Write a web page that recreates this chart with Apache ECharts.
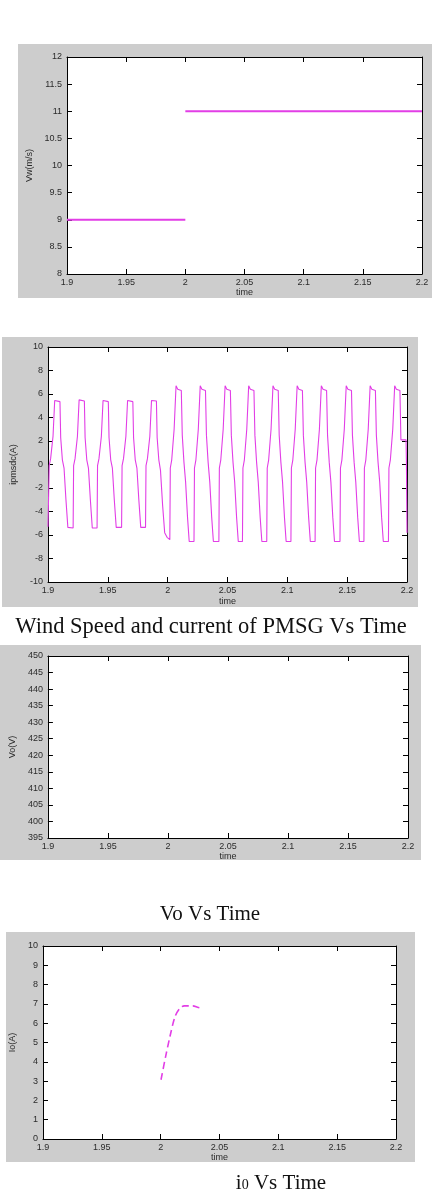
<!DOCTYPE html>
<html>
<head>
<meta charset="utf-8">
<script src="https://cdn.jsdelivr.net/npm/echarts@6/dist/echarts.min.js"></script>
<style>
  html, body { margin: 0; padding: 0; background: #fff; }
  #chartBox { width: 433px; height: 1196px; }
</style>
</head>
<body>
<div id="chartBox"></div>
<script>
// time axis shared by the four plots
const timeTicks = [1.9, 1.95, 2, 2.05, 2.1, 2.15, 2.2];

// plot 1 - wind speed step
const windTicks = [8, 8.5, 9, 9.5, 10, 10.5, 11, 11.5, 12];
const windTime = [1.9, 2.0, 2.0, 2.0, 2.2];
const windSpeed = [9, 9, null, 11, 11];

// plot 2 - PMSG current, one row per cycle
const ipmTicks = [-10, -8, -6, -4, -2, 0, 2, 4, 6, 8, 10];
const ipmTime = [
  1.9000, 1.9010, 1.9022, 1.9042, 1.9056, 1.9100, 1.9106, 1.9120, 1.9134, 1.9150, 1.9166,
  1.9210, 1.9214, 1.9226, 1.9246, 1.9260, 1.9304, 1.9310, 1.9324, 1.9338, 1.9354, 1.9370,
  1.9410, 1.9414, 1.9426, 1.9446, 1.9460, 1.9504, 1.9510, 1.9524, 1.9538, 1.9554, 1.9570,
  1.9615, 1.9619, 1.9631, 1.9651, 1.9665, 1.9709, 1.9715, 1.9729, 1.9743, 1.9759, 1.9775,
  1.9815, 1.9819, 1.9831, 1.9851, 1.9865, 1.9906, 1.9912, 1.9926, 1.9940, 1.9958, 1.9975, 1.9995,
  2.0018, 2.0022, 2.0034, 2.0054, 2.0070, 2.0084, 2.0114, 2.0122, 2.0136, 2.0150, 2.0166, 2.0180,
  2.0220, 2.0224, 2.0236, 2.0256, 2.0272, 2.0286, 2.0316, 2.0324, 2.0338, 2.0352, 2.0368, 2.0382,
  2.0428, 2.0432, 2.0444, 2.0464, 2.0480, 2.0494, 2.0524, 2.0532, 2.0546, 2.0560, 2.0576, 2.0590,
  2.0625, 2.0629, 2.0641, 2.0661, 2.0677, 2.0691, 2.0721, 2.0729, 2.0743, 2.0757, 2.0773, 2.0787,
  2.0828, 2.0832, 2.0844, 2.0864, 2.0880, 2.0894, 2.0924, 2.0932, 2.0946, 2.0960, 2.0976, 2.0990,
  2.1030, 2.1034, 2.1046, 2.1066, 2.1082, 2.1096, 2.1126, 2.1134, 2.1148, 2.1162, 2.1178, 2.1192,
  2.1232, 2.1236, 2.1248, 2.1268, 2.1284, 2.1298, 2.1328, 2.1336, 2.1350, 2.1364, 2.1380, 2.1394,
  2.1440, 2.1444, 2.1456, 2.1476, 2.1492, 2.1506, 2.1536, 2.1544, 2.1558, 2.1572, 2.1588, 2.1602,
  2.1640, 2.1644, 2.1656, 2.1676, 2.1692, 2.1706, 2.1736, 2.1744, 2.1758, 2.1772, 2.1788, 2.1802,
  2.1845, 2.1849, 2.1861, 2.1881, 2.1897, 2.1911, 2.1941, 2.1949, 2.1992, 2.1995, 2.2000
];
const ipmValue = [
  -5.30, -0.10, 0.50, 2.40, 5.45, 5.35, 2.30, 0.40, -0.30, -3.00, -5.35,
  -5.40, -0.10, 0.50, 2.40, 5.50, 5.40, 2.30, 0.40, -0.30, -3.00, -5.40,
  -5.40, -0.10, 0.50, 2.40, 5.45, 5.35, 2.30, 0.40, -0.30, -3.00, -5.35,
  -5.35, -0.10, 0.50, 2.40, 5.45, 5.35, 2.30, 0.40, -0.30, -3.00, -5.35,
  -5.35, -0.10, 0.50, 2.40, 5.45, 5.40, 2.30, 0.40, -0.50, -3.50, -5.80, -6.20,
  -6.40, -0.30, 0.40, 3.00, 6.70, 6.40, 6.30, 2.50, 0.20, -1.50, -4.50, -6.55,
  -6.55, -0.30, 0.40, 3.00, 6.70, 6.40, 6.30, 2.50, 0.20, -1.50, -4.50, -6.55,
  -6.55, -0.30, 0.40, 3.00, 6.70, 6.40, 6.30, 2.50, 0.20, -1.50, -4.50, -6.55,
  -6.55, -0.30, 0.40, 3.00, 6.70, 6.40, 6.30, 2.50, 0.20, -1.50, -4.50, -6.55,
  -6.55, -0.30, 0.40, 3.00, 6.70, 6.40, 6.30, 2.50, 0.20, -1.50, -4.50, -6.55,
  -6.55, -0.30, 0.40, 3.00, 6.70, 6.40, 6.30, 2.50, 0.20, -1.50, -4.50, -6.55,
  -6.55, -0.30, 0.40, 3.00, 6.70, 6.40, 6.30, 2.50, 0.20, -1.50, -4.50, -6.55,
  -6.55, -0.30, 0.40, 3.00, 6.70, 6.40, 6.30, 2.50, 0.20, -1.50, -4.50, -6.55,
  -6.55, -0.30, 0.40, 3.00, 6.70, 6.40, 6.30, 2.50, 0.20, -1.50, -4.50, -6.55,
  -6.55, -0.30, 0.40, 3.00, 6.70, 6.40, 6.30, 2.10, 2.10, 0.30, -5.80
];

// plot 3 - Vo, nothing drawn inside the range
const voTicks = [395, 400, 405, 410, 415, 420, 425, 430, 435, 440, 445, 450];

// plot 4 - io
const ioTicks = [0, 1, 2, 3, 4, 5, 6, 7, 8, 9, 10];
const ioTime = [2.0003, 2.0042, 2.0079, 2.0122, 2.0164, 2.0201, 2.0272, 2.0320, 2.0363];
const ioValue = [3.07, 4.27, 5.31, 6.34, 6.78, 6.90, 6.90, 6.81, 6.76];

const pink = '#e23ee6';
const grey = '#cdcdcd';
const tickFont = { fontFamily: 'Liberation Sans', fontSize: 9, color: '#2b2b2b' };

function zip(xs, ys) {
  return xs.map((x, i) => [x, ys[i]]);
}

function axis(g, ticks, step, pos, opts) {
  return Object.assign({
    gridIndex: g,
    type: 'value',
    position: pos,
    min: ticks[0],
    max: ticks[ticks.length - 1],
    interval: step,
    splitLine: { show: false },
    axisLine: { show: true, onZero: false, lineStyle: { color: '#000', width: 1 } },
    axisTick: { show: true, inside: true, length: 5, lineStyle: { color: '#000' } },
    axisLabel: (pos === 'bottom' || pos === 'left')
      ? Object.assign({ margin: pos === 'left' ? 5 : 4 }, tickFont)
      : { show: false }
  }, opts || {});
}

const xName = (gap) => ({
  name: 'time', nameLocation: 'middle', nameGap: gap,
  nameTextStyle: { fontFamily: 'Liberation Sans', fontSize: 9, color: '#2b2b2b' }
});
const yName = (txt, gap) => ({
  name: txt, nameLocation: 'middle', nameGap: gap,
  nameTextStyle: { fontFamily: 'Liberation Sans', fontSize: 9, color: '#2b2b2b' }
});

const grids = [
  { left: 67, top: 57, width: 355, height: 217 },
  { left: 48, top: 347, width: 359, height: 235 },
  { left: 44, top: 656, width: 364, height: 182 },
  { left: 43, top: 946, width: 353, height: 193 }
].map(g => Object.assign({ show: true, backgroundColor: '#fff', borderWidth: 0 }, g));

const xAxes = [], yAxes = [];
[[windTicks, 0.5, 'Vw(m/s)', 30, 13],
 [ipmTicks, 2, 'ipmsdc(A)', 30, 15],
 [voTicks, 5, 'Vo(V)', 27, 10],
 [ioTicks, 1, 'Io(A)', 25, 13]].forEach(([yt, ys, yn, yg, xg], g) => {
  xAxes.push(axis(g, timeTicks, 0.05, 'bottom', xName(xg)));
  xAxes.push(axis(g, timeTicks, 0.05, 'top'));
  yAxes.push(axis(g, yt, ys, 'left', yName(yn, yg)));
  yAxes.push(axis(g, yt, ys, 'right'));
});

const serifFont = '"Liberation Serif", "Times New Roman", serif';

const option = {
  backgroundColor: '#fff',
  animation: false,
  graphic: {
    elements: [
      { type: 'rect', z: -10, shape: { x: 18, y: 44, width: 414, height: 254 }, style: { fill: grey } },
      { type: 'rect', z: -10, shape: { x: 2, y: 337, width: 416, height: 270 }, style: { fill: grey } },
      { type: 'rect', z: -10, shape: { x: 0, y: 645, width: 421, height: 215 }, style: { fill: grey } },
      { type: 'rect', z: -10, shape: { x: 6, y: 932, width: 409, height: 230 }, style: { fill: grey } },
      { type: 'text', x: 211, y: 627, style: {
          text: 'Wind Speed and current of PMSG Vs Time', font: '22.5px ' + serifFont,
          fill: '#111', textAlign: 'center', textVerticalAlign: 'middle' } },
      { type: 'text', x: 210, y: 914, style: {
          text: 'Vo Vs Time', font: '21px ' + serifFont,
          fill: '#111', textAlign: 'center', textVerticalAlign: 'middle' } },
      { type: 'text', x: 281, y: 1183, style: {
          text: '{a|i}{b|0}{a| Vs Time}',
          textAlign: 'center', textVerticalAlign: 'middle',
          rich: {
            a: { fontFamily: 'Liberation Serif', fontSize: 21, fill: '#111', color: '#111' },
            b: { fontFamily: 'Liberation Serif', fontSize: 14, fill: '#111', color: '#111', verticalAlign: 'bottom', padding: [0, 0, 1, 0] }
          } } }
    ]
  },
  grid: grids,
  xAxis: xAxes,
  yAxis: yAxes,
  series: [
    {
      name: 'wind speed', type: 'line', xAxisIndex: 0, yAxisIndex: 0,
      data: zip(windTime, windSpeed), showSymbol: false, connectNulls: false,
      lineStyle: { color: pink, width: 1.8 }
    },
    {
      name: 'ipmsdc', type: 'line', xAxisIndex: 2, yAxisIndex: 2,
      data: zip(ipmTime, ipmValue), showSymbol: false,
      lineStyle: { color: pink, width: 1.1 }
    },
    {
      name: 'io', type: 'line', xAxisIndex: 6, yAxisIndex: 6,
      data: zip(ioTime, ioValue), showSymbol: false, smooth: 0.3,
      lineStyle: { color: pink, width: 1.6, type: [7, 4] }
    }
  ]
};

const myChart = echarts.init(document.getElementById('chartBox'));
myChart.setOption(option);
</script>
</body>
</html>
